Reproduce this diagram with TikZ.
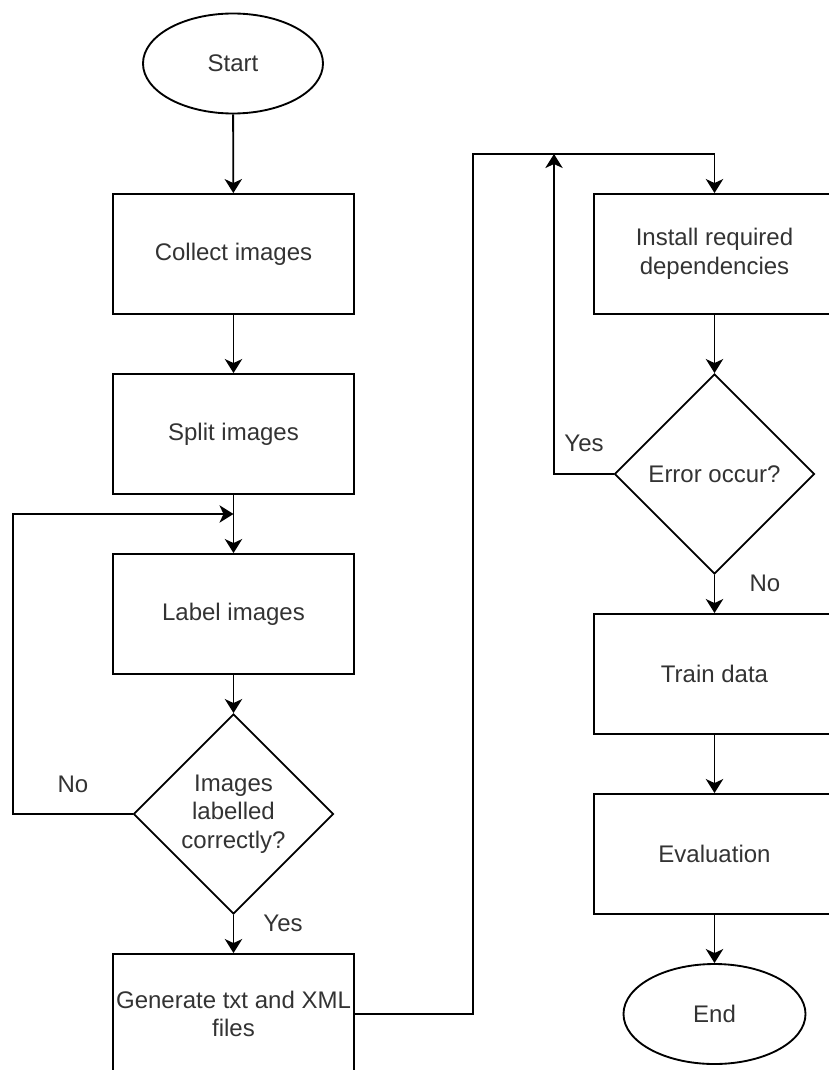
\documentclass[tikz,border=0pt]{standalone}
\usepackage{fontspec}
\setmainfont{Liberation Sans}
\usetikzlibrary{shapes.geometric,arrows.meta}
\definecolor{txt}{HTML}{333333}
\tikzset{
  every node/.style={font=\fontsize{18}{21.4}\selectfont, text=txt},
  proc/.style={draw=black, line width=1.4pt, rectangle, minimum width=180.75pt, minimum height=90pt, inner sep=0pt, align=center},
  term/.style={draw=black, line width=1.4pt, ellipse, minimum width=135pt, minimum height=75pt, inner sep=0pt},
  decide/.style={draw=black, line width=1.4pt, diamond, aspect=1, minimum width=150pt, minimum height=150pt, inner sep=0pt, align=center},
  arr/.style={draw=black, line width=1.4pt, -{Stealth[length=10.5pt,width=13pt,inset=3pt]}},
  lbl/.style={inner sep=0pt}
}
\begin{document}
\begin{tikzpicture}[x=0.75pt,y=-0.75pt]
\useasboundingbox (0,0) rectangle (828,1070);
\node[term] (start) at (233,63.5) {Start};
\node[proc] (collect) at (233.5,254) {Collect images};
\node[proc] (split) at (233.5,434) {Split images};
\node[proc] (label) at (233.5,614) {Label images};
\node[decide] (check) at (233.5,814) {Images\\labelled\\correctly?};
\node[proc] (gen) at (233.5,1014) {Generate txt and XML\\files};
\node[proc] (install) at (714.5,254) {Install required\\dependencies};
\node[decide] (err) at (714.5,474) {Error occur?};
\node[proc] (train) at (714.5,674) {Train data};
\node[proc] (eval) at (714.5,854) {Evaluation};
\node[term, minimum width=136.5pt] (end) at (714.5,1014) {End};

\node[lbl] (no1) at (73,784) {No};
\node[lbl] (yes1) at (283,923) {Yes};
\node[lbl] (yes2) at (584,443) {Yes};
\node[lbl] (no2) at (765,583) {No};

\coordinate (j1) at (233.5,514);
\coordinate (lp) at (13,514);
\coordinate (t1) at (473,154);
\coordinate (j2) at (554,154);

\draw[arr] (start) -- (collect);
\draw[arr] (collect) -- (split);
\draw[arr] (split) -- (label);
\draw[arr] (check.west) -| (lp) -- (j1);
\draw[arr] (label) -- (check);
\draw[arr] (check) -- (gen);
\draw[arr] (gen.east) -| (t1) -| (install.north);
\draw[arr] (install) -- (err);
\draw[arr] (err.west) -| (j2);
\draw[arr] (err) -- (train);
\draw[arr] (train) -- (eval);
\draw[arr] (eval) -- (end);
\end{tikzpicture}
\end{document}
